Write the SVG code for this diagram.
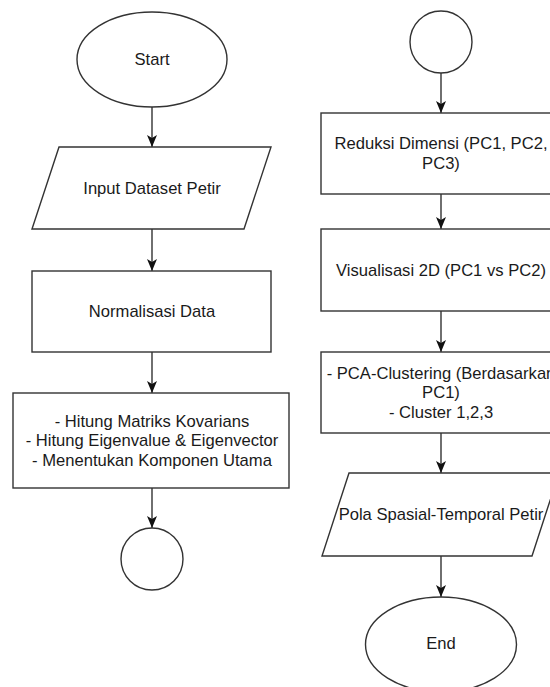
<svg xmlns="http://www.w3.org/2000/svg" width="550" height="687" viewBox="0 0 550 687">
<style>
.s{fill:#ffffff;stroke:#333333;stroke-width:1.4}
.c{fill:none;stroke:#333333;stroke-width:1.4}
text{font-family:"Liberation Sans",Arial,sans-serif;font-size:16.6px;fill:#1a1a1a;text-anchor:middle;dominant-baseline:central}
</style>
<defs>
<marker id="ah" viewBox="0 0 12 10" markerWidth="12" markerHeight="10" refX="12" refY="5" orient="auto" markerUnits="userSpaceOnUse">
<path d="M0,0 L12,5 L0,10 L3,5 Z" fill="#111111"/>
</marker>
</defs>
<rect width="550" height="687" fill="#ffffff"/>
<g id="connectors">
<line class="c" x1="152" y1="107" x2="152" y2="147" marker-end="url(#ah)"/>
<line class="c" x1="152" y1="229" x2="152" y2="271" marker-end="url(#ah)"/>
<line class="c" x1="152" y1="352" x2="152" y2="393" marker-end="url(#ah)"/>
<line class="c" x1="152" y1="488" x2="152" y2="528" marker-end="url(#ah)"/>
<line class="c" x1="441" y1="73" x2="441" y2="113" marker-end="url(#ah)"/>
<line class="c" x1="441" y1="194" x2="441" y2="229" marker-end="url(#ah)"/>
<line class="c" x1="441" y1="311" x2="441" y2="352" marker-end="url(#ah)"/>
<line class="c" x1="441" y1="433" x2="441" y2="473" marker-end="url(#ah)"/>
<line class="c" x1="441" y1="556" x2="441" y2="597" marker-end="url(#ah)"/>
</g>
<g id="start">
<ellipse class="s" cx="152" cy="59.5" rx="75" ry="47.5"/>
<text x="152" y="59.5">Start</text>
</g>
<g id="input">
<polygon class="s" points="59,147 271,147 244,229 32,229"/>
<text x="152" y="188">Input Dataset Petir</text>
</g>
<g id="normalisasi">
<rect class="s" x="32" y="271" width="239" height="81"/>
<text x="152" y="311.5">Normalisasi Data</text>
</g>
<g id="hitung">
<rect class="s" x="13" y="393" width="276" height="95"/>
<text x="152" y="421">- Hitung Matriks Kovarians</text>
<text x="152" y="440.5">- Hitung Eigenvalue &amp; Eigenvector</text>
<text x="152" y="460">- Menentukan Komponen Utama</text>
</g>
<g id="connector-a">
<circle class="s" cx="152" cy="559" r="31"/>
</g>
<g id="connector-b">
<circle class="s" cx="441" cy="42" r="31"/>
</g>
<g id="reduksi">
<rect class="s" x="321" y="113" width="239" height="81"/>
<text x="441" y="143.5">Reduksi Dimensi (PC1, PC2,</text>
<text x="441" y="163.5">PC3)</text>
</g>
<g id="visualisasi">
<rect class="s" x="321" y="229" width="239" height="82"/>
<text x="441" y="270">Visualisasi 2D (PC1 vs PC2)</text>
</g>
<g id="clustering">
<rect class="s" x="321" y="352" width="239" height="81"/>
<text x="441" y="373">- PCA-Clustering (Berdasarkan</text>
<text x="441" y="392.5">PC1)</text>
<text x="441" y="412">- Cluster 1,2,3</text>
</g>
<g id="pola">
<polygon class="s" points="349,473 559,473 532,556 322,556"/>
<text x="441" y="514">Pola Spasial-Temporal Petir</text>
</g>
<g id="end">
<ellipse class="s" cx="441" cy="644.5" rx="75.5" ry="47.5"/>
<text x="441" y="643">End</text>
</g>
</svg>
